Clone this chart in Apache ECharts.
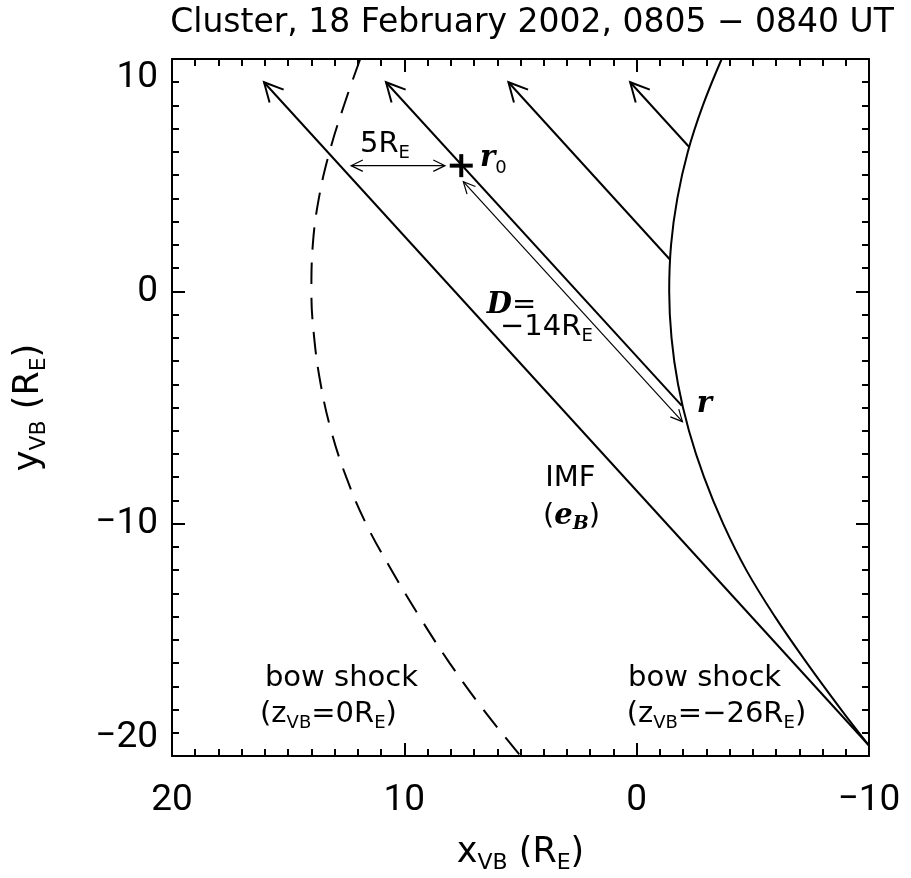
<!DOCTYPE html>
<html><head><meta charset="utf-8">
<script src="https://cdn.jsdelivr.net/npm/echarts@6/dist/echarts.min.js"></script>
<style>html,body{margin:0;padding:0;background:#fff}#c{width:911px;height:878px}</style>
</head><body><div id="c"></div>
<script>
// ---- data ----
const titleText = 'Cluster, 18 February 2002, 0805 \u2212 0840 UT';
const xRange = [-10, 20];          // x_VB axis (reversed: 20 on the left)
const yRange = [-20, 10];          // y_VB axis
const tickStep = 10;
// bow shock at z_VB = 0 R_E (dashed) : [x, y]
const bowShockZ0 = [[11.9,10],[12.6,8],[13.22,6],[13.68,4],[13.94,2],[14.0,0],[13.88,-2],[13.6,-4],[13.15,-6],[12.5,-8],[11.65,-10],[10.55,-12],[9.35,-14],[8.05,-16],[6.6,-18],[5.0,-20]];
// bow shock at z_VB = -26 R_E (solid) : [x, y]
const bowShockZm26 = [[-3.66,10],[-2.85,8],[-2.2,6],[-1.75,4],[-1.48,2],[-1.40,0],[-1.50,-2],[-1.78,-4],[-2.25,-6],[-2.9,-8],[-3.72,-10],[-4.72,-12],[-5.95,-14],[-7.33,-16],[-8.8,-18],[-10.0,-19.55]];
// IMF field lines: [xStart, yStart, xTip, yTip]
const imfLines = [[-10.0,-19.55,16.04,9.0],[-1.94,-4.92,10.79,9.0],[-1.45,1.35,5.52,9.0],[-2.27,6.2,0.28,9.0]];
// spacecraft position r0
const r0Point = [[7.55,5.41]];
// 5 R_E double arrow and D double arrow : [x1, y1, x2, y2]
const arrow5RE = [[12.29,5.41,8.25,5.41]];
const arrowD = [[7.46,4.72,-1.97,-5.61]];
// annotation texts: [x, y, rich text]
const annotations = [
  [11.91, 6.32, '{t|5R}{s|E}'],
  [6.74, 5.70, '{mi|r}{ms|0}'],
  [6.45, -0.61, '{mi|D}{t|=}'],
  [5.88, -1.56, '{t|\u221214R}{s|E}'],
  [-2.59, -4.89, '{mi|r}'],
  [3.94, -8.04, '{t|IMF}'],
  [4.03, -9.67, '{t|(}{mi|e}{mbs|B}{t|)}'],
  [16.0, -16.65, '{t|bow shock}'],
  [16.21, -18.2, '{t|(z}{s|VB}{t|=0R}{s|E}{t|)}'],
  [0.37, -16.65, '{t|bow shock}'],
  [0.43, -18.2, '{t|(z}{s|VB}{t|=\u221226R}{s|E}{t|)}']
];

// ---- styling ----
const F = 'Roboto';
const T = "'DejaVu Sans'";
const SERIF = "'DejaVu Serif','Liberation Serif',serif";
const rich = {
  t: {fontFamily: T, fontSize: 29, lineHeight: 36, color: '#000', opacity: 1},
  s: {fontFamily: T, fontSize: 18, lineHeight: 14, verticalAlign: 'bottom', color: '#000', opacity: 1},
  mi: {fontFamily: SERIF, fontStyle: 'italic', fontWeight: 'bold', fontSize: 29, lineHeight: 36, color: '#000', opacity: 1},
  ms: {fontFamily: T, fontSize: 18, lineHeight: 12, verticalAlign: 'bottom', color: '#000', opacity: 1},
  mbs: {fontFamily: SERIF, fontStyle: 'italic', fontWeight: 'bold', fontSize: 19, lineHeight: 12, verticalAlign: 'bottom', color: '#000', opacity: 1}
};
const nameRich = {
  t: {fontFamily: T, fontSize: 35, lineHeight: 42, color: '#000'},
  s: {fontFamily: T, fontSize: 22, lineHeight: 15, verticalAlign: 'bottom', color: '#000'}
};
const minus = v => (v < 0 ? '\u2212' + Math.abs(v) : String(v));

function axisCommon(showLabel, margin) {
  return {
    axisLine: {show: true, onZero: false, lineStyle: {color: '#000', width: 2}},
    axisTick: {show: true, inside: true, length: 13, lineStyle: {color: '#000', width: 2}},
    minorTick: {show: true, splitNumber: 10, length: 7, lineStyle: {color: '#000', width: 2}},
    splitLine: {show: false},
    axisLabel: {show: showLabel, margin: margin, fontFamily: F, fontSize: 37, color: '#000', formatter: minus}
  };
}

function arrowSeries(data, opts) {
  return {
    type: 'custom', xAxisIndex: 0, yAxisIndex: 0, data: data, silent: true,
    encode: {x: [0, 2], y: [1, 3]},
    renderItem: function (params, api) {
      const p1 = api.coord([api.value(0), api.value(1)]);
      const p2 = api.coord([api.value(2), api.value(3)]);
      const children = [{type: 'line', shape: {x1: p1[0], y1: p1[1], x2: p2[0], y2: p2[1]},
        style: {stroke: '#000', lineWidth: opts.w}}];
      const heads = opts.both ? [[p2, p1], [p1, p2]] : [[p2, p1]];
      heads.forEach(function (h) {
        const tip = h[0], from = h[1];
        const dx = from[0] - tip[0], dy = from[1] - tip[1];
        const L = Math.hypot(dx, dy), ux = dx / L, uy = dy / L;
        const a = opts.ang * Math.PI / 180;
        const wing = s => [tip[0] + opts.len * (ux * Math.cos(s * a) - uy * Math.sin(s * a)),
                           tip[1] + opts.len * (ux * Math.sin(s * a) + uy * Math.cos(s * a))];
        children.push({type: 'polyline', shape: {points: [wing(1), tip, wing(-1)]},
          style: {stroke: '#000', fill: null, lineWidth: opts.w}});
      });
      return {type: 'group', children: children};
    }
  };
}

const chart = echarts.init(document.getElementById('c'), null, {renderer: 'canvas'});
const yLab = axisCommon(true, 14);
yLab.axisLabel.verticalAlignMaxLabel = 'top';
yLab.axisLabel.verticalAlignMinLabel = 'bottom';
chart.setOption({
  animation: false,
  backgroundColor: '#fff',
  title: {text: titleText, left: 527, top: 2, textAlign: 'center',
    textStyle: {fontFamily: T, fontSize: 33, fontWeight: 'normal', color: '#000'}},
  grid: {left: 172, right: 42, top: 59, bottom: 122, outerBoundsMode: 'none'},
  xAxis: [
    Object.assign(axisCommon(true, 26), {type: 'value', min: xRange[0], max: xRange[1], interval: tickStep, inverse: true,
      position: 'bottom',
      name: '{t|x}{s|VB}{t| (R}{s|E}{t|)}', nameLocation: 'middle', nameGap: 76,
      nameTextStyle: {rich: nameRich}}),
    Object.assign(axisCommon(false, 8), {type: 'value', min: xRange[0], max: xRange[1], interval: tickStep, inverse: true,
      position: 'top'})
  ],
  yAxis: [
    Object.assign(yLab, {type: 'value', min: yRange[0], max: yRange[1], interval: tickStep,
      position: 'left',
      name: '{t|y}{s|VB}{t| (R}{s|E}{t|)}', nameLocation: 'middle', nameGap: 122, nameRotate: 90,
      nameTextStyle: {rich: nameRich}}),
    Object.assign(axisCommon(false, 8), {type: 'value', min: yRange[0], max: yRange[1], interval: tickStep,
      position: 'right'})
  ],
  series: [
    {type: 'line', data: bowShockZ0, smooth: 0.4, symbol: 'none', silent: true,
      lineStyle: {color: '#000', width: 2, type: [22, 13]}},
    {type: 'line', data: bowShockZm26, smooth: 0.4, symbol: 'none', silent: true,
      lineStyle: {color: '#000', width: 2}},
    arrowSeries(imfLines, {w: 2, len: 21, ang: 27, both: false}),
    arrowSeries(arrow5RE, {w: 1.2, len: 13, ang: 26, both: true}),
    arrowSeries(arrowD, {w: 1.2, len: 13, ang: 26, both: true}),
    {type: 'custom', data: r0Point, silent: true, encode: {x: 0, y: 1},
      renderItem: function (params, api) {
        const p = api.coord([api.value(0), api.value(1)]);
        const h = 11.5;
        return {type: 'group', children: [
          {type: 'line', shape: {x1: p[0] - h, y1: p[1], x2: p[0] + h, y2: p[1]}, style: {stroke: '#000', lineWidth: 4}},
          {type: 'line', shape: {x1: p[0], y1: p[1] - h, x2: p[0], y2: p[1] + h}, style: {stroke: '#000', lineWidth: 4}}
        ]};
      }},
    {type: 'scatter', symbolSize: 0, silent: true, itemStyle: {opacity: 1},
      data: annotations.map(a => ({value: [a[0], a[1]],
        label: {show: true, color: '#000', opacity: 1, formatter: a[2], position: [0, 0], align: 'left', verticalAlign: 'middle', rich: rich}}))}
  ]
});
</script>
</body></html>
